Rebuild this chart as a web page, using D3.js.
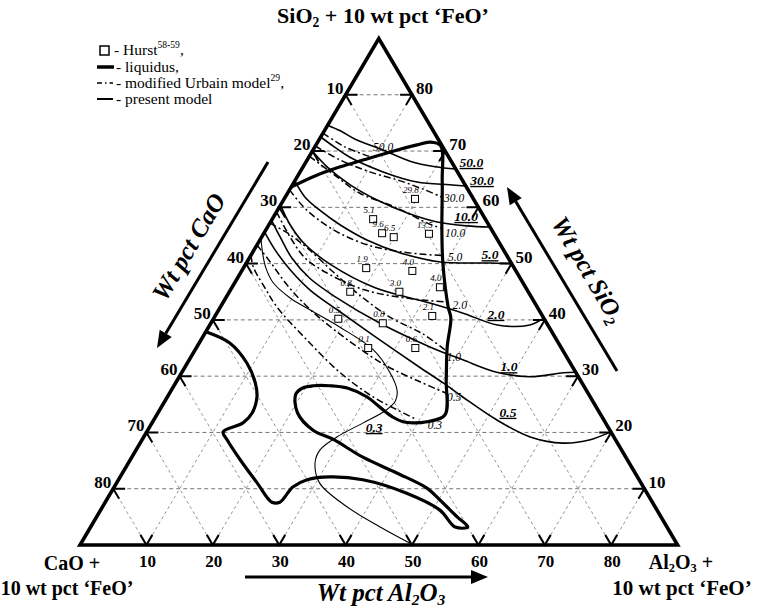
<!DOCTYPE html>
<html>
<head>
<meta charset="utf-8">
<script src="https://cdnjs.cloudflare.com/ajax/libs/d3/7.8.5/d3.min.js"></script>
<style>
  body { margin: 0; background: #fff; }
  svg { display: block; font-family: "Liberation Serif", "Times New Roman", serif; }
</style>
</head>
<body>
<div id="chart"></div>
<script>
// every composition below is [wt pct Al2O3, wt pct SiO2]; CaO is the rest up to 90
const tickValues = [10, 20, 30, 40, 50, 60, 70, 80];

// liquidus (thick line), one path from the CaO-SiO2 side round the liquid field
const liquidus = [
  [0, 63.6], [2.8, 65.7], [5.6, 67.2], [8.4, 68.4], [12.7, 70.2], [15.2, 71.1], [16.9, 71.6], [18.8, 71.0],
  [22.1, 64.9], [26.5, 56.0], [29.6, 50.1], [34.3, 42.3], [35.7, 40.3], [37.7, 35.2], [40.5, 29.3], [43.4, 23.1],
  [41.3, 21.9], [39.3, 21.7], [37.7, 21.9], [35.8, 22.7], [32.9, 24.5], [30.1, 26.3], [26.3, 27.9], [23.5, 28.3],
  [21.0, 28.3], [19.6, 27.9], [19.1, 26.8], [21.0, 23.5], [24.9, 20.4], [28.7, 18.8], [34.8, 15.6], [41.3, 12.8],
  [47.2, 10.1], [50.2, 8.0], [54.3, 5.0], [56.8, 3.2], [54.9, 3.2], [51.1, 6.2], [44.6, 9.2], [36.8, 11.6],
  [31.6, 12.1], [28.4, 11.6], [26.9, 10.3], [26.3, 7.6], [25.1, 7.6], [21.2, 11.0], [16.6, 15.1], [12.8, 18.7],
  [11.5, 20.1], [13.7, 21.7], [14.2, 23.5], [13.5, 26.3], [12.0, 28.8], [9.0, 32.3], [4.6, 35.9], [0, 37.9]
];

// present model iso-viscosity lines (poise)
const p50 = [[0, 74.6], [2.4, 73.6], [5.4, 72.1], [10.5, 70.2], [15.6, 68.2], [19.9, 67.2], [23.2, 66.8]];
const p30 = [[0, 72.5], [3.0, 70.7], [6.2, 68.9], [12.5, 66.3], [18.5, 64.5], [23.7, 64.0], [26.2, 63.8]];
const p10 = [[0, 70.0], [3.6, 67.2], [8.7, 64.0], [14.1, 61.3], [19.8, 59.0], [25.1, 57.4], [29.9, 56.7], [33.5, 56.5]];
const p5 = [[0, 64.7], [3.0, 61.8], [6.5, 59.4], [10.7, 56.9], [16.1, 54.2], [22.3, 51.9], [29.1, 50.3], [36.7, 50.1], [40.0, 50.0]];
const p2 = [[0, 60.4], [3.2, 56.9], [6.8, 53.7], [12.7, 49.9], [21.6, 45.7], [31.2, 43.0], [37.1, 41.2], [43.3, 39.1], [48.2, 39.1], [49.7, 40.3]];
const p1 = [[0, 57.7], [2.9, 54.6], [6.4, 51.0], [10.9, 47.4], [16.4, 44.1], [25.5, 39.4], [35.1, 35.2], [41.2, 32.9], [47.4, 30.7], [52.8, 29.9], [57.5, 30.6], [59.3, 30.7]];
const p05 = [[0, 55.6], [3.2, 52.4], [7.2, 48.9], [12.0, 45.3], [18.5, 41.4], [27.0, 36.4], [35.5, 31.5], [40.3, 28.8], [44.5, 26.3], [51.7, 22.2], [58.2, 19.2], [63.7, 18.1], [67.5, 18.7], [69.9, 20.1]];
const p03 = [[0, 54.5], [1.8, 51.5], [3.4, 49.2], [5.8, 46.6], [9.7, 43.9], [13.1, 42.1], [19.8, 38.7], [26.8, 34.7], [31.3, 30.7], [34.0, 27.5], [34.7, 25.6], [34.0, 23.8], [31.8, 21.7], [29.1, 19.2], [27.7, 16.9], [28.1, 14.6], [30.6, 11.0], [36.8, 6.8], [43.6, 3.2], [50.2, 0]];

// modified Urbain model lines
const u50 = [[0, 73.2], [4.6, 70.7], [9.5, 68.9]];
const u30 = [[0, 70.9], [5.0, 68.4], [10.5, 66.3], [15.9, 64.7], [20.4, 63.1], [23.6, 61.8]];
const u10 = [[0, 69.1], [6.0, 65.4], [10.9, 62.5], [17.8, 59.9], [23.7, 57.2], [26.5, 56.2]];
const u5 = [[0, 63.1], [3.6, 60.1], [7.0, 57.8], [11.4, 55.4], [16.7, 53.3], [22.2, 52.1], [29.0, 51.4]];
const u2 = [[0, 59.2], [4.3, 54.7], [8.4, 51.0], [13.7, 48.0], [20.3, 45.3], [27.0, 43.9], [33.2, 43.2]];
const u1 = [[0, 57.2], [3.6, 55.4], [7.8, 52.8], [13.9, 48.5], [19.3, 44.8], [26.4, 40.5], [32.9, 37.5], [37.9, 34.5]];
const u05 = [[0, 53.3], [3.5, 50.3], [8.1, 46.2], [13.8, 41.8], [21.5, 36.8], [29.9, 32.0], [36.7, 29.0], [41.6, 27.0]];
const u03 = [[0, 51.5], [1.4, 49.4], [5.0, 45.7], [8.5, 42.3], [16.0, 36.4], [23.9, 30.6], [31.0, 26.3], [35.8, 24.0], [39.3, 22.4]];

const presentLines = [p50, p30, p10, p5, p2, p1, p05];
const urbainLines = [u50, u30, u10, u5, u2, u1, u05, u03];

// line labels: [text, Al2O3, SiO2]
const presentLabels = [
  ['50.0', 25.0, 67.9], ['30.0', 28.2, 64.7], ['10.0', 29.0, 58.3], ['5.0', 36.0, 51.5],
  ['2.0', 42.2, 40.9], ['1.0', 48.8, 31.6], ['0.5', 52.7, 23.5], ['0.3', 33.9, 20.8]
];
const urbainLabels = [
  ['50.0', 10.3, 70.7], ['30.0', 25.5, 61.7], ['10.0', 28.8, 55.4], ['5.0', 30.9, 51.2],
  ['2.0', 35.9, 42.6], ['1.0', 39.6, 33.4], ['0.5', 43.2, 26.3], ['0.3', 42.8, 21.3]
];

// Hurst measurements: [Al2O3, SiO2, viscosity]
const hurst = [
  [19.7, 61.5, '29.8'], [15.2, 57.9, '5.1'], [17.8, 55.4, '9.6'], [19.9, 54.7, '6.5'], [24.9, 55.3, '13.5'],
  [18.5, 49.2, '1.9'], [25.7, 48.7, '4.0'], [31.3, 45.8, '4.0'], [18.2, 45.0, '0.8'], [25.6, 45.0, '3.0'],
  [32.7, 40.7, '2.1'], [18.8, 40.2, '0.5'], [25.9, 39.4, '0.8'], [25.9, 35.0, '0.1'], [33.0, 35.0, '0.6']
];

const W = 758, H = 609;
const x = d3.scaleLinear().domain([0, 90]).range([80, 677.6]);
const y = d3.scaleLinear().domain([0, 90]).range([545, 38.5]);
const P = d => [x(d[0] + d[1] / 2), y(d[1])];

const svg = d3.select('#chart').append('svg')
  .attr('width', W).attr('height', H);

const curve = d3.line().x(d => P(d)[0]).y(d => P(d)[1]).curve(d3.curveCatmullRom.alpha(0.5));
const straight = d3.line().x(d => P(d)[0]).y(d => P(d)[1]);

function richText(t, parts, size, sub = 0.28) {
  let shift = 0;
  parts.forEach(([str, kind]) => {
    const target = kind === 'sub' ? size * sub : kind === 'sup' ? -size * 0.42 : 0;
    const ts = t.append('tspan').attr('dy', target - shift).text(str);
    if (kind) ts.attr('font-size', size * 0.62);
    shift = target;
  });
}

// grid
const grid = svg.append('g');
tickValues.forEach(v => {
  grid.append('path').attr('d', straight([[0, v], [90 - v, v]]))
    .attr('stroke', '#666').attr('stroke-width', 0.9).attr('stroke-dasharray', '4,3').attr('fill', 'none');
  grid.append('path').attr('d', straight([[v, 0], [v, 90 - v]]))
    .attr('stroke', '#888').attr('stroke-width', 0.9).attr('stroke-dasharray', '3,3').attr('fill', 'none');
  grid.append('path').attr('d', straight([[90 - v, 0], [0, 90 - v]]))
    .attr('stroke', '#888').attr('stroke-width', 0.9).attr('stroke-dasharray', '3,3').attr('fill', 'none');
});

// model lines
svg.append('g').selectAll('path').data(urbainLines).join('path')
  .attr('d', curve).attr('fill', 'none').attr('stroke', '#000')
  .attr('stroke-width', 1.5).attr('stroke-dasharray', '7,3,2,3');

svg.append('g').selectAll('path').data(presentLines).join('path')
  .attr('d', curve).attr('fill', 'none').attr('stroke', '#000').attr('stroke-width', 1.6);

svg.append('path').attr('d', curve(p03)).attr('fill', 'none').attr('stroke', '#000').attr('stroke-width', 1.1);

svg.append('path').attr('d', curve(liquidus)).attr('fill', 'none').attr('stroke', '#000')
  .attr('stroke-width', 3.2).attr('stroke-linejoin', 'round');

// Hurst points
const hg = svg.append('g');
hg.selectAll('rect').data(hurst).join('rect')
  .attr('x', d => P(d)[0] - 3.5).attr('y', d => P(d)[1] - 3.5)
  .attr('width', 7).attr('height', 7)
  .attr('fill', '#fff').attr('stroke', '#000').attr('stroke-width', 1);
hg.selectAll('text').data(hurst).join('text')
  .attr('x', d => P(d)[0] - 4).attr('y', d => P(d)[1] - 6)
  .attr('text-anchor', 'middle').attr('font-size', 9).attr('font-style', 'italic')
  .text(d => d[2]);

// line labels
svg.append('g').selectAll('text').data(presentLabels).join('text')
  .attr('x', d => P([d[1], d[2]])[0]).attr('y', d => P([d[1], d[2]])[1] + 4)
  .attr('text-anchor', 'middle').attr('font-size', 13.5).attr('font-weight', 'bold')
  .attr('font-style', 'italic').style('text-decoration', 'underline')
  .text(d => d[0]);
svg.append('g').selectAll('text').data(urbainLabels).join('text')
  .attr('x', d => P([d[1], d[2]])[0]).attr('y', d => P([d[1], d[2]])[1] + 4)
  .attr('text-anchor', 'middle').attr('font-size', 11.5).attr('font-style', 'italic')
  .text(d => d[0]);

// triangle
svg.append('path').attr('d', straight([[0, 0], [90, 0], [0, 90]]) + 'Z')
  .attr('fill', 'none').attr('stroke', '#000').attr('stroke-width', 3.6).attr('stroke-linejoin', 'miter');

// ticks, drawn along the two grid directions that meet at each tick
const t = 1.8;
const ticks = svg.append('g').attr('stroke', '#000').attr('stroke-width', 2).attr('fill', 'none');
tickValues.forEach(v => {
  ticks.append('path').attr('d', straight([[v, t], [v, 0], [v - t, t]]));
  ticks.append('path').attr('d', straight([[t, 90 - v], [0, 90 - v], [t, 90 - v - t]]));
  ticks.append('path').attr('d', straight([[90 - v - t, v], [90 - v, v], [90 - v, v - t]]));
});

// tick labels
const tl = svg.append('g').attr('font-size', 17).attr('font-weight', 'bold');
tickValues.forEach(v => {
  tl.append('text').attr('x', x(v) + 1).attr('y', 567).attr('text-anchor', 'middle').text(v);
  const l = P([0, 90 - v]);
  tl.append('text').attr('x', l[0] - 2).attr('y', l[1] - 1).attr('text-anchor', 'end').text(v);
  const r = P([90 - v, v]);
  tl.append('text').attr('x', r[0] + 4).attr('y', r[1] - 1).attr('text-anchor', 'start').text(v);
});

// corner labels
const corner = svg.append('g').attr('font-weight', 'bold').attr('text-anchor', 'middle');
richText(corner.append('text').attr('x', 383).attr('y', 23).attr('font-size', 22),
  [['SiO'], ['2', 'sub'], [' + 10 wt pct \u2018FeO\u2019']], 22, 0.2);
richText(corner.append('text').attr('x', 72).attr('y', 570).attr('font-size', 20), [['CaO +']], 20);
richText(corner.append('text').attr('x', 67).attr('y', 595).attr('font-size', 20), [['10 wt pct \u2018FeO\u2019']], 20);
richText(corner.append('text').attr('x', 681).attr('y', 569).attr('font-size', 20),
  [['Al'], ['2', 'sub'], ['O'], ['3', 'sub'], [' +']], 20, 0.14);
richText(corner.append('text').attr('x', 682).attr('y', 595).attr('font-size', 21), [['10 wt pct \u2018FeO\u2019']], 21);

// axis titles with arrows
function arrow(x1, y1, x2, y2) {
  const len = Math.hypot(x2 - x1, y2 - y1), ux = (x2 - x1) / len, uy = (y2 - y1) / len;
  const bx = x2 - ux * 17, by = y2 - uy * 17;
  svg.append('line').attr('x1', x1).attr('y1', y1).attr('x2', bx).attr('y2', by)
    .attr('stroke', '#000').attr('stroke-width', 3);
  svg.append('path')
    .attr('d', `M${x2},${y2}L${bx - uy * 7},${by + ux * 7}L${bx + uy * 7},${by - ux * 7}Z`)
    .attr('fill', '#000');
}
arrow(245, 577, 488, 577);
arrow(268, 162, 157, 348);
arrow(617, 371, 507, 187);

const titles = svg.append('g').attr('font-weight', 'bold').attr('font-style', 'italic').attr('text-anchor', 'middle');
richText(titles.append('text').attr('x', 381).attr('y', 601).attr('font-size', 25),
  [['Wt pct Al'], ['2', 'sub'], ['O'], ['3', 'sub']], 25, 0.16);
richText(titles.append('text').attr('transform', 'translate(196,251) rotate(-59.4)').attr('font-size', 25),
  [['Wt pct CaO']], 25);
richText(titles.append('text').attr('transform', 'translate(581,274) rotate(59.4)').attr('font-size', 25),
  [['Wt pct SiO'], ['2', 'sub']], 25, 0.2);

// legend
const lg = svg.append('g').attr('font-size', 15.5);
lg.append('rect').attr('x', 100).attr('y', 46).attr('width', 9).attr('height', 9)
  .attr('fill', '#fff').attr('stroke', '#000').attr('stroke-width', 1.5);
richText(lg.append('text').attr('x', 114).attr('y', 55), [['- Hurst'], ['58-59', 'sup'], [',']], 15.5);
lg.append('line').attr('x1', 97).attr('x2', 114).attr('y1', 67).attr('y2', 67).attr('stroke', '#000').attr('stroke-width', 3.5);
richText(lg.append('text').attr('x', 116).attr('y', 72), [['- liquidus,']], 15.5);
lg.append('line').attr('x1', 97).attr('x2', 113).attr('y1', 83).attr('y2', 83).attr('stroke', '#000')
  .attr('stroke-width', 1.3).attr('stroke-dasharray', '5,3,1.5,3');
richText(lg.append('text').attr('x', 116).attr('y', 88), [['- modified Urbain model'], ['29', 'sup'], [',']], 15.5);
lg.append('line').attr('x1', 97).attr('x2', 113).attr('y1', 99).attr('y2', 99).attr('stroke', '#000').attr('stroke-width', 2);
richText(lg.append('text').attr('x', 116).attr('y', 104), [['- present model']], 15.5);
</script>
</body>
</html>
